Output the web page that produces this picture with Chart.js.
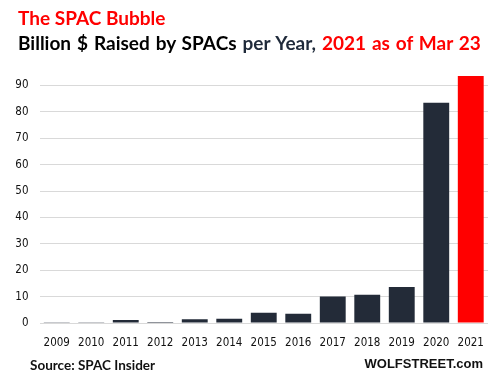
<!DOCTYPE html>
<html>
<head>
<meta charset="utf-8">
<script src="https://cdn.jsdelivr.net/npm/chart.js@4"></script>
<style>
  body { margin: 0; background: #fff; }
  #wrap { position: relative; width: 490px; height: 380px; }
  .t { position: absolute; white-space: nowrap; font-family: Lato, "Open Sans", sans-serif; font-weight: bold; }
</style>
</head>
<body>
<div id="wrap">
  <canvas id="myChart" width="490" height="380"></canvas>
  <div class="t" style="left:18px; top:6px; font-size:19px; color:#ff0000;">The SPAC Bubble</div>
  <div class="t" style="left:18px; top:31px; font-size:19px; word-spacing:1.3px; color:#000;">Billion $ Raised by SPACs <span style="color:#1f2a3a">per Year,</span> <span style="color:#ff0000">2021 as of Mar 23</span></div>
  <div class="t" style="left:30px; top:357px; font-size:13.5px; color:#111;">Source: SPAC Insider</div>
  <div class="t" style="right:7px; top:356px; font-size:13px; color:#111; font-family: 'Liberation Sans', Arial, sans-serif;">WOLFSTREET.com</div>
</div>
<script>
    const years = ['2009','2010','2011','2012','2013','2014','2015','2016','2017','2018','2019','2020','2021'];
    const raised = [0.3, 0.3, 1.1, 0.4, 1.4, 1.6, 3.9, 3.5, 10.0, 10.7, 13.6, 83.4, 93.6];
    const barColors = years.map(y => y === '2021' ? '#ff0000' : '#232b38');

    const ctx = document.getElementById('myChart');
    const tickFont = { family: '"DejaVu Sans Condensed", "DejaVu Sans", sans-serif', size: 11.5 };

    new Chart(ctx, {
        type: 'bar',
        data: {
            labels: years,
            datasets: [{
                data: raised,
                backgroundColor: barColors,
                categoryPercentage: 1,
                barPercentage: 0.75
            }]
        },
        options: {
            responsive: false,
            animation: false,
            layout: { padding: { top: 59, right: 2, bottom: 0, left: 0 } },
            plugins: { legend: { display: false }, tooltip: { enabled: false } },
            scales: {
                x: {
                    grid: { display: false },
                    border: { display: false },
                    ticks: { color: '#111', font: tickFont, padding: 5, maxRotation: 0 },
                    afterFit: s => { s.height = 57; }
                },
                y: {
                    min: 0,
                    max: 100,
                    grid: {
                        color: c => c.tick && c.tick.value === 100 ? 'rgba(0,0,0,0)' : '#d9d9d9',
                        drawTicks: false
                    },
                    border: { display: false },
                    ticks: {
                        stepSize: 10,
                        color: '#111',
                        font: tickFont,
                        padding: 11,
                        callback: v => v === 100 ? '' : v
                    },
                    afterFit: s => { s.width = 39.5; }
                }
            }
        }
    });
</script>
</body>
</html>
